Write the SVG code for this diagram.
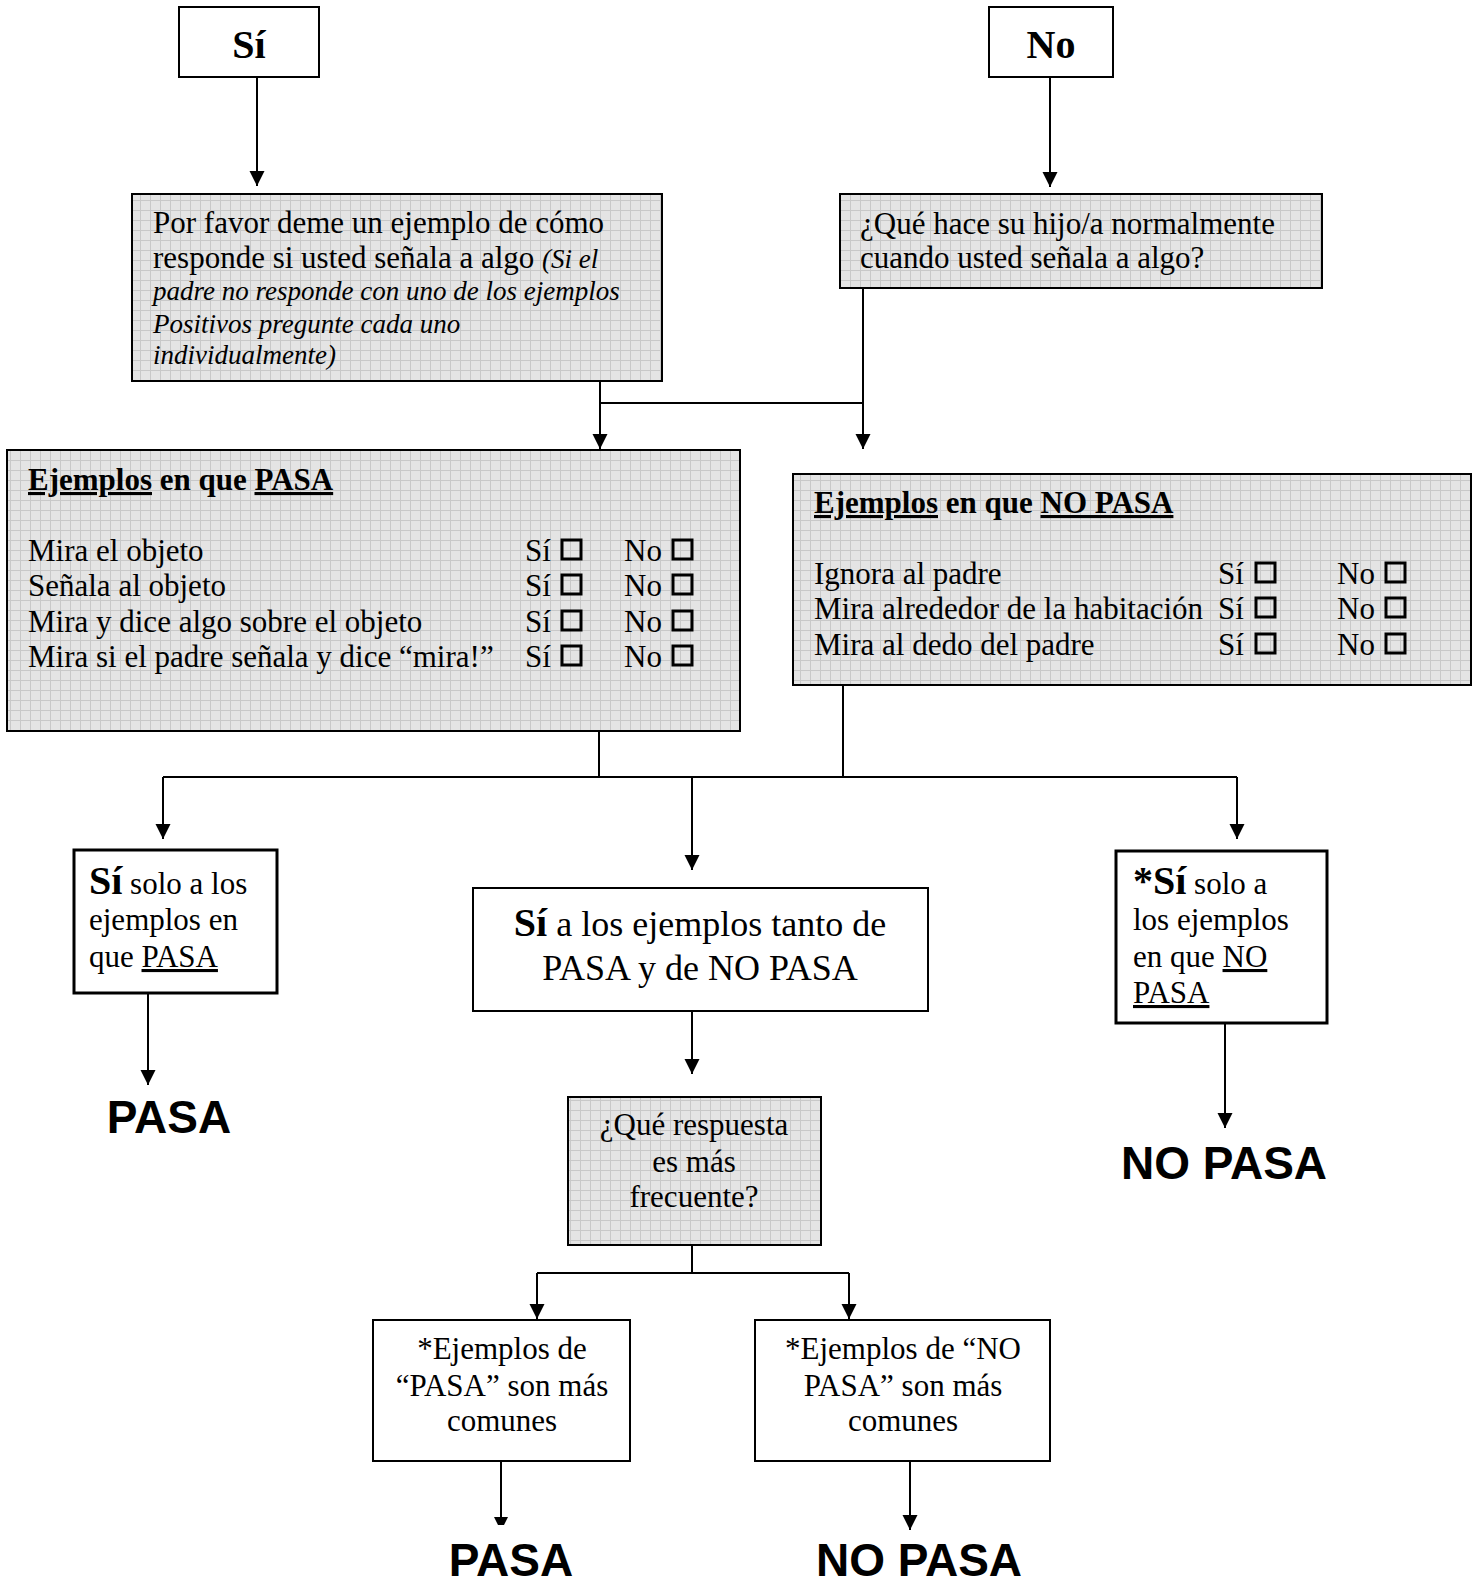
<svg xmlns="http://www.w3.org/2000/svg" width="1478" height="1586" viewBox="0 0 1478 1586">
<defs>
<pattern id="grid" width="10" height="10" patternUnits="userSpaceOnUse">
<rect width="10" height="10" fill="#e4e4e4"/>
<path d="M0,0.5 H10 M0.5,0 V10" stroke="#c8c8c8" stroke-width="1" fill="none"/>
</pattern>
<marker id="ah" markerWidth="16" markerHeight="16" refX="15" refY="8" orient="auto" markerUnits="userSpaceOnUse">
<path d="M0,0.5 L15,8 L0,15.5 z" fill="#000"/>
</marker>
<style>
.t{font-family:"Liberation Serif","Times New Roman",serif;font-size:31px;fill:#000}
.ti{font-style:italic;font-size:27px}
.s36{font-size:36px}
.s40{font-size:40px}
.b{font-weight:bold}
.big{font-family:"Liberation Sans",Arial,sans-serif;font-weight:bold;font-size:46px;fill:#000}
.u{text-decoration:underline}
.gbox{fill:url(#grid);stroke:#000;stroke-width:2}
.wbox{fill:#fff;stroke:#000;stroke-width:2}
.wbox3{fill:#fff;stroke:#000;stroke-width:3}
.cb{fill:none;stroke:#000;stroke-width:3}
.c{fill:none;stroke:#000;stroke-width:2}
.ca{fill:none;stroke:#000;stroke-width:2;marker-end:url(#ah)}
.m{text-anchor:middle}
</style>
</defs>
<rect width="1478" height="1586" fill="#fff"/>

<g id="connectors">
<path class="ca" d="M257,77 V186"/>
<path class="ca" d="M1050,77 V187"/>
<path class="ca" d="M600,356 V449"/>
<path class="ca" d="M863,288 V449"/>
<path class="c" d="M600,403 H863"/>
<path class="c" d="M599,731 V777"/>
<path class="c" d="M843,685 V777"/>
<path class="c" d="M163,777 H1237"/>
<path class="ca" d="M163,777 V839"/>
<path class="ca" d="M692,777 V870"/>
<path class="ca" d="M1237,777 V839"/>
<path class="ca" d="M148,993 V1085"/>
<path class="ca" d="M692,1011 V1074"/>
<path class="ca" d="M1225,1010 V1128"/>
<path class="c" d="M692,1245 V1273"/>
<path class="c" d="M537,1273 H849"/>
<path class="ca" d="M537,1273 V1319"/>
<path class="ca" d="M849,1273 V1319"/>
<path class="c" d="M501,1461 V1518"/>
<polygon points="494,1517 508,1517 504,1525 498,1525" fill="#000"/>
<path class="ca" d="M910,1461 V1530"/>
</g>

<g id="node-si">
<rect class="wbox" x="179" y="7" width="140" height="70"/>
<text class="t b m s40" x="249" y="58">Sí</text>
</g>

<g id="node-no">
<rect class="wbox" x="989" y="7" width="124" height="70"/>
<text class="t b m s40" x="1051" y="58">No</text>
</g>

<g id="node-ejemplo">
<rect class="gbox" x="132" y="194" width="530" height="187"/>
<text class="t" x="153" y="233">Por favor deme un ejemplo de cómo</text>
<text class="t" x="153" y="268">responde si usted señala a algo <tspan class="ti">(Si el</tspan></text>
<text class="t ti" x="153" y="300">padre no responde con uno de los ejemplos</text>
<text class="t ti" x="153" y="333">Positivos pregunte cada uno</text>
<text class="t ti" x="153" y="364">individualmente)</text>
</g>

<g id="node-que-hace">
<rect class="gbox" x="840" y="194" width="482" height="94"/>
<text class="t" x="860" y="234">¿Qué hace su hijo/a normalmente</text>
<text class="t" x="860" y="268">cuando usted señala a algo?</text>
</g>

<g id="node-pasa-list">
<rect class="gbox" x="7" y="450" width="733" height="281"/>
<text class="t b" x="28" y="490"><tspan class="u">Ejemplos</tspan> en que <tspan class="u">PASA</tspan></text>
<text class="t" x="28" y="561">Mira el objeto</text>
<text class="t" x="28" y="596">Señala al objeto</text>
<text class="t" x="28" y="632">Mira y dice algo sobre el objeto</text>
<text class="t" x="28" y="667">Mira si el padre señala y dice “mira!”</text>
<text class="t" x="525" y="561">Sí</text><rect class="cb" x="562" y="540" width="19" height="19"/>
<text class="t" x="624" y="561">No</text><rect class="cb" x="673" y="540" width="19" height="19"/>
<text class="t" x="525" y="596">Sí</text><rect class="cb" x="562" y="575" width="19" height="19"/>
<text class="t" x="624" y="596">No</text><rect class="cb" x="673" y="575" width="19" height="19"/>
<text class="t" x="525" y="632">Sí</text><rect class="cb" x="562" y="611" width="19" height="19"/>
<text class="t" x="624" y="632">No</text><rect class="cb" x="673" y="611" width="19" height="19"/>
<text class="t" x="525" y="667">Sí</text><rect class="cb" x="562" y="646" width="19" height="19"/>
<text class="t" x="624" y="667">No</text><rect class="cb" x="673" y="646" width="19" height="19"/>
</g>

<g id="node-nopasa-list">
<rect class="gbox" x="793" y="474" width="678" height="211"/>
<text class="t b" x="814" y="513"><tspan class="u">Ejemplos</tspan> en que <tspan class="u">NO PASA</tspan></text>
<text class="t" x="814" y="584">Ignora al padre</text>
<text class="t" x="814" y="619">Mira alrededor de la habitación</text>
<text class="t" x="814" y="655">Mira al dedo del padre</text>
<text class="t" x="1218" y="584">Sí</text><rect class="cb" x="1256" y="563" width="19" height="19"/>
<text class="t" x="1337" y="584">No</text><rect class="cb" x="1386" y="563" width="19" height="19"/>
<text class="t" x="1218" y="619">Sí</text><rect class="cb" x="1256" y="598" width="19" height="19"/>
<text class="t" x="1337" y="619">No</text><rect class="cb" x="1386" y="598" width="19" height="19"/>
<text class="t" x="1218" y="655">Sí</text><rect class="cb" x="1256" y="634" width="19" height="19"/>
<text class="t" x="1337" y="655">No</text><rect class="cb" x="1386" y="634" width="19" height="19"/>
</g>

<g id="node-si-solo-pasa">
<rect class="wbox3" x="74" y="850" width="203" height="143"/>
<text class="t" x="89" y="894"><tspan class="b s40">Sí</tspan> solo a los</text>
<text class="t" x="89" y="930">ejemplos en</text>
<text class="t" x="89" y="967">que <tspan class="u">PASA</tspan></text>
</g>

<g id="node-ambos">
<rect class="wbox" x="473" y="888" width="455" height="123"/>
<text class="t m s36" x="700" y="936"><tspan class="b s40">Sí</tspan> a los ejemplos tanto de</text>
<text class="t m s36" x="700" y="980">PASA y de NO PASA</text>
</g>

<g id="node-si-solo-nopasa">
<rect class="wbox3" x="1116" y="851" width="211" height="172"/>
<text class="t" x="1133" y="894"><tspan class="b s40">*Sí</tspan> solo a</text>
<text class="t" x="1133" y="930">los ejemplos</text>
<text class="t" x="1133" y="967">en que <tspan class="u">NO</tspan></text>
<text class="t u" x="1133" y="1003">PASA</text>
</g>

<g id="node-pasa-1">
<text class="big m" x="169" y="1133">PASA</text>
</g>

<g id="node-nopasa-1">
<text class="big m" x="1224" y="1179">NO PASA</text>
</g>

<g id="node-frecuente">
<rect class="gbox" x="568" y="1097" width="253" height="148"/>
<text class="t m" x="694" y="1135">¿Qué respuesta</text>
<text class="t m" x="694" y="1172">es más</text>
<text class="t m" x="694" y="1207">frecuente?</text>
</g>

<g id="node-pasa-comunes">
<rect class="wbox" x="373" y="1320" width="257" height="141"/>
<text class="t m" x="502" y="1359">*Ejemplos de</text>
<text class="t m" x="502" y="1396">“PASA” son más</text>
<text class="t m" x="502" y="1431">comunes</text>
</g>

<g id="node-nopasa-comunes">
<rect class="wbox" x="755" y="1320" width="295" height="141"/>
<text class="t m" x="903" y="1359">*Ejemplos de “NO</text>
<text class="t m" x="903" y="1396">PASA” son más</text>
<text class="t m" x="903" y="1431">comunes</text>
</g>

<g id="node-pasa-2">
<text class="big m" x="511" y="1576">PASA</text>
</g>

<g id="node-nopasa-2">
<text class="big m" x="919" y="1576">NO PASA</text>
</g>
</svg>
